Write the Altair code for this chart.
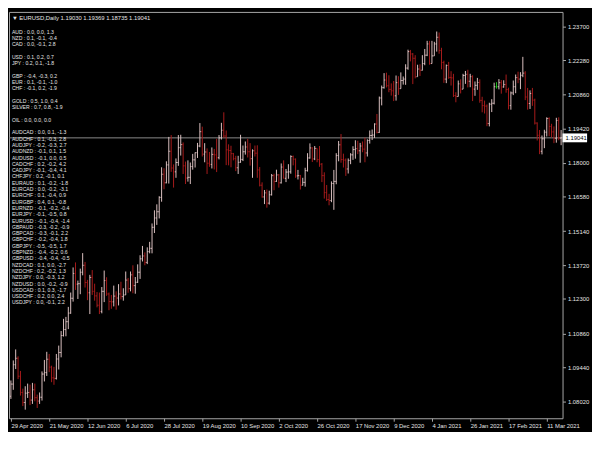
import altair as alt
import pandas as pd
import numpy as np

FONT = "Liberation Sans"

# ---------------- OHLC data (EURUSD, Daily) ----------------
first_open = 1.0823
close_apr = [1.0874, 1.0955]
high_apr = [1.0889, 1.0973]
low_apr = [1.0812, 1.0850]

close_may = [1.0982, 1.0907, 1.0839, 1.0797, 1.0836, 1.0839, 1.0807, 1.0850, 1.0817, 1.0803, 1.0819,
             1.0916, 1.0922, 1.0978, 1.0945, 1.0900, 1.0898, 1.0979, 1.1006, 1.1077, 1.1102]
high_may = [1.1019, 1.0990, 1.0929, 1.0855, 1.0865, 1.0876, 1.0872, 1.0879, 1.0876, 1.0830, 1.0839,
            1.0927, 1.0975, 1.1009, 1.1000, 1.0951, 1.0946, 1.1000, 1.1035, 1.1096, 1.1147]
low_may = [1.0937, 1.0895, 1.0826, 1.0782, 1.0767, 1.0816, 1.0786, 1.0791, 1.0802, 1.0774, 1.0791,
           1.0805, 1.0885, 1.0908, 1.0924, 1.0882, 1.0871, 1.0893, 1.0935, 1.0986, 1.1073]

close_jun = [1.1135, 1.1171, 1.1233, 1.1337, 1.1292, 1.1294, 1.1342, 1.1371, 1.1299, 1.1256, 1.1320,
             1.1262, 1.1243, 1.1204, 1.1178, 1.1262, 1.1307, 1.1251, 1.1219, 1.1218, 1.1242, 1.1234]
high_jun = [1.1155, 1.1197, 1.1257, 1.1362, 1.1383, 1.1307, 1.1357, 1.1422, 1.1385, 1.1310, 1.1331,
            1.1351, 1.1294, 1.1259, 1.1257, 1.1280, 1.1349, 1.1321, 1.1257, 1.1247, 1.1286, 1.1262]
low_jun = [1.1074, 1.1104, 1.1168, 1.1219, 1.1268, 1.1230, 1.1250, 1.1329, 1.1278, 1.1225, 1.1167,
           1.1247, 1.1223, 1.1195, 1.1167, 1.1170, 1.1217, 1.1243, 1.1183, 1.1189, 1.1199, 1.1185]

close_jul = [1.1251, 1.1240, 1.1247, 1.1309, 1.1273, 1.1331, 1.1286, 1.1300, 1.1342, 1.1398, 1.1410, 1.1383,
             1.1428, 1.1442, 1.1530, 1.1569, 1.1595, 1.1655, 1.1752, 1.1716, 1.1791, 1.1848, 1.1778]
high_jul = [1.1292, 1.1302, 1.1275, 1.1345, 1.1318, 1.1345, 1.1371, 1.1322, 1.1375, 1.1413, 1.1452, 1.1425,
            1.1446, 1.1469, 1.1546, 1.1601, 1.1626, 1.1660, 1.1781, 1.1777, 1.1806, 1.1908, 1.1916]
low_jul = [1.1203, 1.1228, 1.1223, 1.1250, 1.1256, 1.1262, 1.1254, 1.1252, 1.1297, 1.1314, 1.1387, 1.1371,
           1.1376, 1.1421, 1.1421, 1.1506, 1.1540, 1.1567, 1.1637, 1.1689, 1.1714, 1.1713, 1.1762]

close_aug = [1.1762, 1.1801, 1.1863, 1.1876, 1.1787, 1.1736, 1.1739, 1.1784, 1.1812, 1.1842, 1.1870,
             1.1930, 1.1836, 1.1845, 1.1798, 1.1793, 1.1835, 1.1833, 1.1821, 1.1904, 1.1936]
high_aug = [1.1793, 1.1818, 1.1916, 1.1917, 1.1885, 1.1805, 1.1810, 1.1801, 1.1837, 1.1843, 1.1883,
            1.1966, 1.1951, 1.1882, 1.1860, 1.1845, 1.1864, 1.1858, 1.1900, 1.1916, 1.1967]
low_aug = [1.1696, 1.1737, 1.1787, 1.1830, 1.1753, 1.1711, 1.1721, 1.1711, 1.1771, 1.1780, 1.1820,
           1.1865, 1.1826, 1.1802, 1.1753, 1.1783, 1.1776, 1.1772, 1.1761, 1.1814, 1.1897]

close_sep = [1.1912, 1.1854, 1.1851, 1.1838, 1.1817, 1.1779, 1.1802, 1.1814, 1.1846, 1.1866, 1.1846,
             1.1817, 1.1850, 1.1840, 1.1770, 1.1706, 1.1657, 1.1674, 1.1631, 1.1666, 1.1746, 1.1722]
high_sep = [1.2011, 1.1935, 1.1877, 1.1871, 1.1841, 1.1829, 1.1829, 1.1917, 1.1872, 1.1889, 1.1900,
            1.1882, 1.1856, 1.1872, 1.1873, 1.1782, 1.1718, 1.1686, 1.1688, 1.1683, 1.1753, 1.1754]
low_sep = [1.1904, 1.1790, 1.1789, 1.1781, 1.1810, 1.1765, 1.1753, 1.1800, 1.1807, 1.1834, 1.1822,
           1.1788, 1.1737, 1.1826, 1.1737, 1.1701, 1.1654, 1.1627, 1.1612, 1.1625, 1.1663, 1.1685]

close_oct = [1.1749, 1.1716, 1.1782, 1.1735, 1.1761, 1.1762, 1.1826, 1.1815, 1.1745, 1.1746, 1.1706,
             1.1718, 1.1767, 1.1820, 1.1862, 1.1816, 1.1860, 1.1813, 1.1794, 1.1746, 1.1675, 1.1646]
high_oct = [1.1771, 1.1753, 1.1797, 1.1810, 1.1774, 1.1794, 1.1831, 1.1830, 1.1818, 1.1770, 1.1749,
            1.1737, 1.1779, 1.1840, 1.1881, 1.1865, 1.1870, 1.1860, 1.1870, 1.1799, 1.1760, 1.1707]
low_oct = [1.1720, 1.1696, 1.1713, 1.1734, 1.1719, 1.1733, 1.1754, 1.1789, 1.1737, 1.1730, 1.1688,
           1.1705, 1.1700, 1.1763, 1.1817, 1.1803, 1.1811, 1.1802, 1.1783, 1.1719, 1.1650, 1.1640]

close_nov = [1.1642, 1.1713, 1.1722, 1.1830, 1.1875, 1.1813, 1.1811, 1.1774, 1.1810, 1.1833, 1.1855,
             1.1859, 1.1850, 1.1870, 1.1857, 1.1841, 1.1893, 1.1914, 1.1916, 1.1962, 1.1927]
high_nov = [1.1670, 1.1722, 1.1770, 1.1840, 1.1891, 1.1920, 1.1838, 1.1818, 1.1818, 1.1840, 1.1869,
            1.1894, 1.1892, 1.1883, 1.1889, 1.1905, 1.1898, 1.1935, 1.1939, 1.1965, 1.2004]
low_nov = [1.1622, 1.1635, 1.1603, 1.1710, 1.1806, 1.1800, 1.1780, 1.1745, 1.1755, 1.1794, 1.1812,
           1.1817, 1.1836, 1.1800, 1.1844, 1.1802, 1.1826, 1.1880, 1.1895, 1.1904, 1.1923]

close_dec = [1.2071, 1.2114, 1.2146, 1.2122, 1.2107, 1.2101, 1.2080, 1.2135, 1.2110, 1.2144, 1.2150,
             1.2196, 1.2265, 1.2255, 1.2237, 1.2160, 1.2192, 1.2187, 1.2215, 1.2250, 1.2297, 1.2215]
high_dec = [1.2077, 1.2123, 1.2175, 1.2177, 1.2166, 1.2132, 1.2142, 1.2165, 1.2162, 1.2178, 1.2161,
            1.2212, 1.2273, 1.2272, 1.2259, 1.2250, 1.2210, 1.2212, 1.2250, 1.2276, 1.2310, 1.2310]
low_dec = [1.1925, 1.2040, 1.2110, 1.2115, 1.2095, 1.2081, 1.2058, 1.2060, 1.2084, 1.2123, 1.2127,
           1.2126, 1.2189, 1.2224, 1.2129, 1.2153, 1.2163, 1.2163, 1.2186, 1.2208, 1.2246, 1.2210]

close_jan = [1.2247, 1.2297, 1.2325, 1.2270, 1.2219, 1.2150, 1.2207, 1.2157, 1.2155, 1.2081,
             1.2077, 1.2130, 1.2108, 1.2165, 1.2170, 1.2141, 1.2160, 1.2108, 1.2124, 1.2136]
high_jan = [1.2310, 1.2306, 1.2349, 1.2345, 1.2281, 1.2227, 1.2211, 1.2222, 1.2183, 1.2172,
            1.2095, 1.2144, 1.2149, 1.2172, 1.2184, 1.2189, 1.2172, 1.2166, 1.2140, 1.2155]
low_jan = [1.2223, 1.2253, 1.2265, 1.2256, 1.2191, 1.2134, 1.2133, 1.2151, 1.2123, 1.2075,
           1.2053, 1.2077, 1.2090, 1.2110, 1.2130, 1.2115, 1.2116, 1.2058, 1.2080, 1.2105]

close_feb = [1.2061, 1.2039, 1.2037, 1.1964, 1.2045, 1.2049, 1.2118, 1.2118, 1.2135, 1.2117,
             1.2127, 1.2106, 1.2039, 1.2092, 1.2118, 1.2156, 1.2150, 1.2166, 1.2175, 1.2075]
high_feb = [1.2149, 1.2076, 1.2060, 1.2044, 1.2051, 1.2066, 1.2135, 1.2137, 1.2150, 1.2146,
            1.2145, 1.2169, 1.2114, 1.2098, 1.2144, 1.2169, 1.2181, 1.2179, 1.2243, 1.2183]
low_feb = [1.2051, 1.2011, 1.2006, 1.1953, 1.1952, 1.2012, 1.2044, 1.2110, 1.2107, 1.2089,
           1.2114, 1.2093, 1.2023, 1.2022, 1.2083, 1.2091, 1.2133, 1.2108, 1.2158, 1.2062]

close_mar = [1.2048, 1.2090, 1.2062, 1.1966, 1.1915, 1.1848, 1.1900, 1.1928, 1.1985, 1.1952,
             1.1929, 1.1902, 1.1977, 1.1903, 1.19041]
high_mar = [1.2113, 1.2103, 1.2113, 1.2068, 1.1969, 1.1937, 1.1914, 1.1938, 1.1990, 1.1990,
            1.1963, 1.1952, 1.1988, 1.1990, 1.19369]
low_mar = [1.2022, 1.2025, 1.2038, 1.1960, 1.1893, 1.1836, 1.1835, 1.1861, 1.1910, 1.1911,
           1.1906, 1.1882, 1.1884, 1.1894, 1.18735]

# ---------------- axis labels ----------------
date_labels = ["29 Apr 2020", "21 May 2020", "12 Jun 2020", "6 Jul 2020", "28 Jul 2020",
               "19 Aug 2020", "10 Sep 2020", "2 Oct 2020", "26 Oct 2020", "17 Nov 2020",
               "9 Dec 2020", "4 Jan 2021", "26 Jan 2021", "17 Feb 2021", "11 Mar 2021"]
price_ticks = [1.23700, 1.22280, 1.20860, 1.19420, 1.18000, 1.16580, 1.15140,
               1.13720, 1.12300, 1.10860, 1.09440, 1.08020]

header_text = "\u25bc EURUSD,Daily  1.19030 1.19369 1.18735 1.19041"
strength_lines = [
    "AUD : 0.0, 0.0, 1.3", "NZD : 0.1, -0.1, -0.4", "CAD : 0.0, -0.1, 2.8", "",
    "USD : 0.1, 0.2, 0.7", "JPY : 0.2, 0.1, -1.8", "",
    "GBP : -0.4, -0.3, 0.2", "EUR : 0.1, -0.1, -1.0", "CHF : -0.1, 0.2, -1.9", "",
    "GOLD : 0.5, 1.0, 0.4", "SILVER : 0.7, 0.8, -1.9", "",
    "OIL : 0.0, 0.0, 0.0", "",
    "AUDCAD : 0.0, 0.1, -1.3", "AUDCHF : 0.1, -0.3, 2.8", "AUDJPY : -0.2, -0.3, 2.7",
    "AUDNZD : -0.1, 0.1, 1.5", "AUDUSD : -0.1, 0.0, 0.5", "CADCHF : 0.2, -0.2, 4.2",
    "CADJPY : -0.1, -0.4, 4.1", "CHFJPY : 0.2, -0.1, 0.1", "EURAUD : 0.1, -0.2, -1.8",
    "EURCAD : 0.0, -0.2, -3.1", "EURCHF : 0.1, -0.4, 0.9", "EURGBP : 0.4, 0.1, -0.8",
    "EURNZD : -0.1, -0.2, -0.4", "EURJPY : -0.1, -0.5, 0.8", "EURUSD : -0.1, -0.4, -1.4",
    "GBPAUD : -0.3, -0.2, -0.9", "GBPCAD : -0.3, -0.1, 2.2", "GBPCHF : -0.2, -0.4, 1.8",
    "GBPJPY : -0.5, -0.5, 1.7", "GBPNZD : -0.4, -0.2, 0.6", "GBPUSD : -0.4, -0.4, -0.5",
    "NZDCAD : 0.1, 0.0, -2.7", "NZDCHF : 0.2, -0.2, 1.3", "NZDJPY : 0.0, -0.3, 1.2",
    "NZDUSD : 0.0, -0.2, -0.9", "USDCAD : 0.1, 0.3, -1.7", "USDCHF : 0.2, 0.0, 2.4",
    "USDJPY : 0.0, -0.1, 2.2",
]
last_price = 1.19041

# ---------------- build table ----------------
closes = (close_apr + close_may + close_jun + close_jul + close_aug + close_sep +
          close_oct + close_nov + close_dec + close_jan + close_feb + close_mar)
highs = (high_apr + high_may + high_jun + high_jul + high_aug + high_sep +
         high_oct + high_nov + high_dec + high_jan + high_feb + high_mar)
lows = (low_apr + low_may + low_jun + low_jul + low_aug + low_sep +
        low_oct + low_nov + low_dec + low_jan + low_feb + low_mar)
opens = [first_open] + closes[:-1]
n = len(closes)

df = pd.DataFrame({"i": np.arange(n), "open": opens, "high": highs, "low": lows, "close": closes})
df["high"] = df[["high", "open", "close"]].max(axis=1)
df["low"] = df[["low", "open", "close"]].min(axis=1)
df["dir"] = np.where(df["close"] > df["open"] + 1e-9, "up",
                     np.where(df["close"] < df["open"] - 1e-9, "down", "flat"))
df["il"] = df["i"] - 0.42
df["ir"] = df["i"] + 0.42

W, H = 564, 414
LABEL = "#e6e6e6"
FRAME = "#a8a8a8"
ROW_TOP, ROW_STEP = 20.0, 6.42

xs = alt.Scale(domain=[-0.8, n - 0.4], nice=False, zero=False)
ys = alt.Scale(domain=[1.0731, 1.2431], nice=False, zero=False)

label_expr = "[" + ",".join("'" + d + "'" for d in date_labels) + "][round(datum.value/16)]"
xaxis = alt.Axis(values=[16 * k for k in range(len(date_labels))], labelExpr=label_expr,
                 title=None, grid=False, domain=False, ticks=True, tickSize=3, tickColor=FRAME,
                 labelAlign="left", labelFontSize=6, labelFont=FONT, labelColor=LABEL,
                 labelPadding=1, labelFlush=False, labelOverlap=False)
yaxis = alt.Axis(orient="right", values=price_ticks, format=".5f", title=None, grid=False,
                 domain=False, tickSize=3, tickColor=FRAME, labelFontSize=6, labelFont=FONT,
                 labelColor=LABEL, labelPadding=2, labelOverlap=False, labelFlush=False)

color = alt.Color("dir:N", scale=alt.Scale(domain=["up", "down", "flat"],
                                           range=["#dcc2c2", "#a81c1c", "#22c022"]), legend=None)

base = alt.Chart(df)
hl = base.mark_rule(strokeWidth=1).encode(
    x=alt.X("i:Q", scale=xs, axis=xaxis),
    y=alt.Y("low:Q", scale=ys, axis=yaxis),
    y2="high:Q",
    color=color,
)
otick = base.mark_rule(strokeWidth=1).encode(
    x=alt.X("il:Q", scale=xs, axis=xaxis), x2="i:Q",
    y=alt.Y("open:Q", scale=ys, axis=yaxis), color=color,
)
ctick = base.mark_rule(strokeWidth=1).encode(
    x=alt.X("i:Q", scale=xs, axis=xaxis), x2="ir:Q",
    y=alt.Y("close:Q", scale=ys, axis=yaxis), color=color,
)

pdf = pd.DataFrame({"p": [last_price], "label": [f"{last_price:.5f}"]})
pline = alt.Chart(pdf).mark_rule(color="#8c8c8c", strokeWidth=1).encode(
    y=alt.Y("p:Q", scale=ys, axis=yaxis))
pbox = alt.Chart(pdf).mark_rule(color="white", strokeWidth=9, clip=False).encode(
    x=alt.value(W), x2=alt.value(W + 25), y=alt.Y("p:Q", scale=ys, axis=yaxis))
ptext = alt.Chart(pdf).mark_text(color="black", fontSize=6, font=FONT, align="left",
                                 baseline="middle", clip=False).encode(
    x=alt.value(W + 3), y=alt.Y("p:Q", scale=ys, axis=yaxis), text="label:N")

rows = [(k, s) for k, s in enumerate(strength_lines) if s]
tdf = pd.DataFrame({"t": [s for _, s in rows],
                    "ypix": [ROW_TOP + ROW_STEP * k for k, _ in rows]})
strength = alt.Chart(tdf).mark_text(color=LABEL, fontSize=5.2, font=FONT, align="left",
                                    baseline="middle").encode(
    x=alt.value(3), y=alt.Y("ypix:Q", scale=None, axis=None), text="t:N")

hdf = pd.DataFrame({"h": [header_text]})
header = alt.Chart(hdf).mark_text(color=LABEL, fontSize=6, font=FONT, align="left",
                                  baseline="middle").encode(
    x=alt.value(3), y=alt.value(6), text="h:N")

chart = alt.layer(pline, hl, otick, ctick, pbox, ptext, strength, header).properties(
    width=W, height=H, padding=0, background="black"
).configure_view(stroke=FRAME, strokeWidth=1)

chart.save("out.html", embed_options={"renderer": "svg", "actions": False})
